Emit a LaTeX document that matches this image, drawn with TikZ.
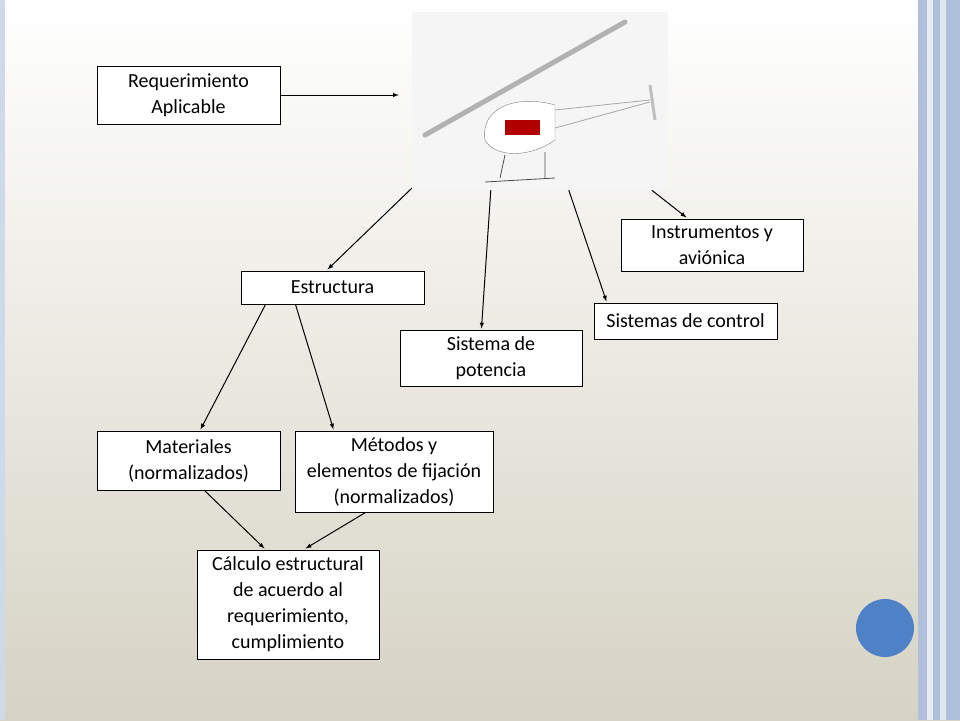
\documentclass[tikz,border=0pt]{standalone}
\usepackage{fontspec}
\setmainfont{Carlito}
\usetikzlibrary{arrows,calc}
\definecolor{bgtop}{RGB}{255,255,255}
\definecolor{bgbot}{RGB}{214,211,196}
\definecolor{barblue}{RGB}{176,192,218}
\definecolor{dotblue}{RGB}{79,129,199}
\tikzset{
  box/.style={draw=black,fill=white,line width=1pt,align=center,inner sep=0pt,
    font=\fontsize{20}{26}\selectfont},
  link/.style={-latex,line width=1pt}
}
\begin{document}
\begin{tikzpicture}[x=1pt,y=-1pt]
\useasboundingbox (0,0) rectangle (960,720);
% background
\shade[top color=bgtop,bottom color=bgbot] (0,0) rectangle (960,720);
\fill[barblue!60] (0,0) rectangle (5,720);
\fill[barblue] (918,0) rectangle (960,720);
\fill[white!70!barblue] (927,0) rectangle (933,720);
\fill[white!60!barblue] (940,0) rectangle (946,720);
\fill[dotblue] (885,628) circle (29);

% photo
\node[fill=white!92!gray,minimum width=256pt,minimum height=178pt,inner sep=0pt] (photo) at (540,101) {};
\draw[gray!60,line width=5pt,line cap=round] (425,135) -- (625,22);
\draw[fill=white,draw=gray] (485,140) .. controls (480,105) and (520,95) .. (555,105) -- (555,140) .. controls (530,158) and (495,158) .. (485,140);
\fill[red!70!black] (505,120) rectangle (540,135);
\draw[gray!70,thick] (555,110) -- (650,100) (555,128) -- (650,102);
\draw[gray!50,line width=3pt] (650,85) -- (655,120);
\draw[black!70,thick] (505,155) -- (500,178) (545,152) -- (545,178) (485,182) -- (555,178);

% boxes
\node[box,minimum width=183pt,minimum height=58pt] (req) at (188.5,95) {Requerimiento\\Aplicable};
\node[box,minimum width=182pt,minimum height=52pt] (inst) at (712,245) {Instrumentos y\\aviónica};
\node[box,minimum width=183pt,minimum height=33pt] (est) at (332.5,287.5) {Estructura};
\node[box,minimum width=183pt,minimum height=36pt] (ctrl) at (685.5,321) {Sistemas de control};
\node[box,minimum width=182pt,minimum height=56pt] (pot) at (491,358) {Sistema de\\potencia};
\node[box,minimum width=183pt,minimum height=59pt] (mat) at (188.5,460.5) {Materiales\\(normalizados)};
\node[box,minimum width=198pt,minimum height=81pt] (met) at (394,471.5) {Métodos y\\elementos de fijación\\(normalizados)};
\node[box,minimum width=182pt,minimum height=109pt] (calc) at (288,604.5) {Cálculo estructural\\de acuerdo al\\requerimiento,\\cumplimiento};

% connectors
\draw[link,shorten >=13pt] (req.east) -- (photo.west |- req.east);
\draw[link] ($(photo.south west)+(0,-2)$) -- ($(est.north west)+(87,-1)$);
\draw[link] ($(photo.south west)+(79,0)$) -- ($(pot.north west)+(82,-1)$);
\draw[link] ($(photo.south west)+(157,0)$) -- ($(ctrl.north west)+(13,-1)$);
\draw[link] ($(photo.south west)+(240,0)$) -- ($(inst.north west)+(66,-1)$);
\draw[link] ($(est.south west)+(25,0)$) -- ($(mat.north west)+(104,-1)$);
\draw[link] ($(est.south west)+(55,0)$) -- ($(met.north west)+(39,-1)$);
\draw[link] ($(mat.south west)+(108,0)$) -- ($(calc.north west)+(68,-1)$);
\draw[link] ($(met.south west)+(71,0)$) -- ($(calc.north west)+(109,-1)$);
\end{tikzpicture}
\end{document}
